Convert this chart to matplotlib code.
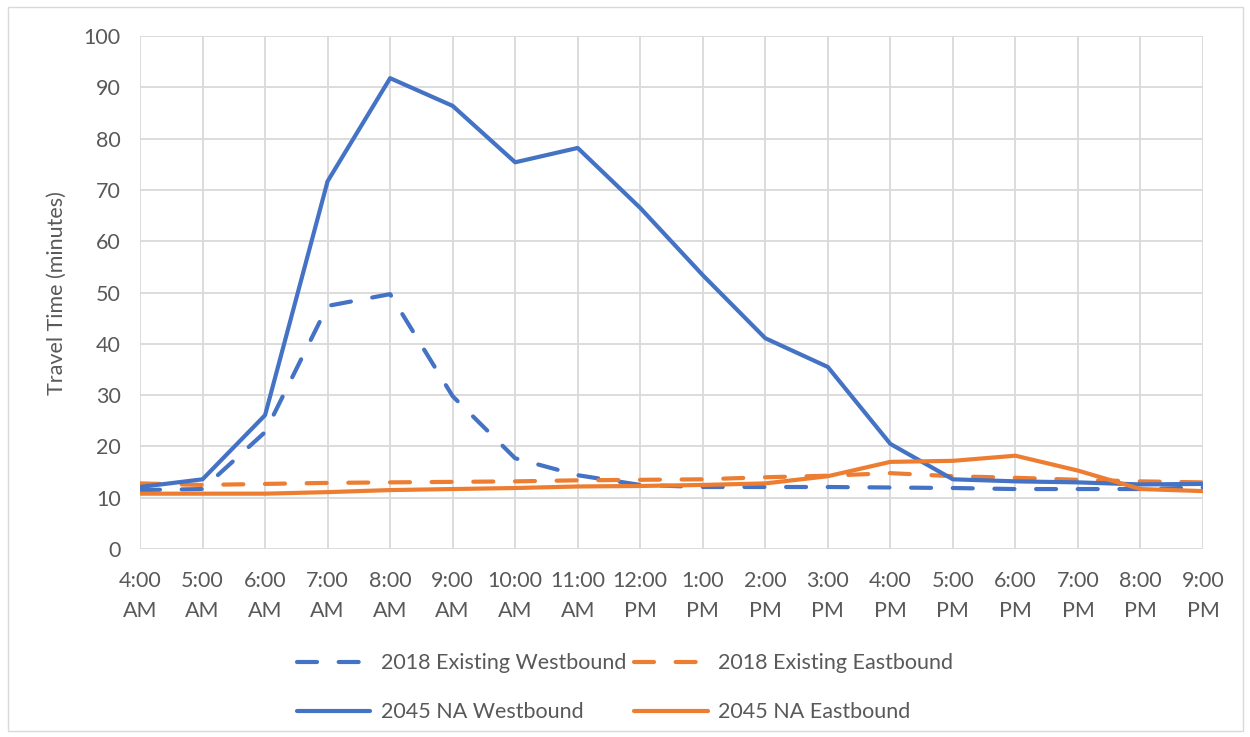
import matplotlib
matplotlib.use("Agg")
import matplotlib.pyplot as plt
from matplotlib.patches import Rectangle

hours = ["4:00\nAM", "5:00\nAM", "6:00\nAM", "7:00\nAM", "8:00\nAM", "9:00\nAM",
         "10:00\nAM", "11:00\nAM", "12:00\nPM", "1:00\nPM", "2:00\nPM", "3:00\nPM",
         "4:00\nPM", "5:00\nPM", "6:00\nPM", "7:00\nPM", "8:00\nPM", "9:00\nPM"]

existing_wb_2018 = [11.5, 11.7, 22.8, 47.4, 49.7, 29.8, 17.7, 14.4, 12.5, 12.1,
                    12.1, 12.1, 12.0, 11.9, 11.7, 11.7, 11.7, 12.0]
existing_eb_2018 = [12.8, 12.5, 12.7, 12.9, 13.0, 13.1, 13.2, 13.4, 13.5, 13.6,
                    14.0, 14.3, 14.8, 14.2, 13.9, 13.5, 13.2, 13.0]
na_wb_2045 = [12.1, 13.6, 26.1, 71.7, 91.8, 86.4, 75.4, 78.2, 66.5, 53.4,
              41.1, 35.5, 20.5, 13.6, 13.2, 13.0, 12.6, 12.7]
na_eb_2045 = [10.8, 10.8, 10.8, 11.1, 11.5, 11.7, 11.9, 12.2, 12.3, 12.5,
              12.8, 14.2, 17.0, 17.2, 18.2, 15.3, 11.7, 11.3]

BLUE = "#4472C4"
ORANGE = "#ED7D31"
TEXT = "#595959"
GRID = "#D9D9D9"
FS = 15.5

plt.rcParams["font.family"] = ["Lato", "DejaVu Sans"]

fig = plt.figure(figsize=(12.5, 7.37), dpi=100)
ax = fig.add_axes([0.112, 0.255, 0.8504, 0.696])

x = list(range(len(hours)))
lw = 3.0
dash = (4.8, 5.2)
l1, = ax.plot(x, existing_wb_2018, color=BLUE, lw=lw, dashes=dash,
              dash_capstyle="round", dash_joinstyle="round",
              label="2018 Existing Westbound", zorder=3)
l2, = ax.plot(x, existing_eb_2018, color=ORANGE, lw=lw, dashes=dash,
              dash_capstyle="round", dash_joinstyle="round",
              label="2018 Existing Eastbound", zorder=3)
l3, = ax.plot(x, na_wb_2045, color=BLUE, lw=lw, solid_capstyle="round",
              solid_joinstyle="round", label="2045 NA Westbound", zorder=3)
l4, = ax.plot(x, na_eb_2045, color=ORANGE, lw=lw, solid_capstyle="round",
              solid_joinstyle="round", label="2045 NA Eastbound", zorder=3)

ax.set_xlim(0, len(hours) - 1)
ax.set_ylim(0, 100)
ax.set_yticks(range(0, 101, 10))
ax.set_xticks(x)
ax.set_xticklabels(hours, linespacing=1.6)
ax.grid(True, color=GRID, lw=1.3)
ax.set_axisbelow(True)
for s in ax.spines.values():
    s.set_visible(False)
ax.tick_params(length=0, colors=TEXT, labelsize=FS)
ax.tick_params(axis="x", pad=16)
ax.tick_params(axis="y", pad=14)
ax.set_ylabel("Travel Time (minutes)", color=TEXT, fontsize=FS, labelpad=12)

fig.legend(handles=[l1, l3, l2, l4], ncol=2, loc="center",
           bbox_to_anchor=(0.5, 0.067), frameon=False, fontsize=FS,
           labelcolor=TEXT, handlelength=3.4, handletextpad=0.5,
           columnspacing=0.4, labelspacing=1.35)

fig.patches.append(Rectangle((0.006, 0.008), 0.988, 0.983, transform=fig.transFigure,
                             fill=False, edgecolor="#D9D9D9", lw=1.0))

fig.savefig("out.png", dpi=100, facecolor="white")
